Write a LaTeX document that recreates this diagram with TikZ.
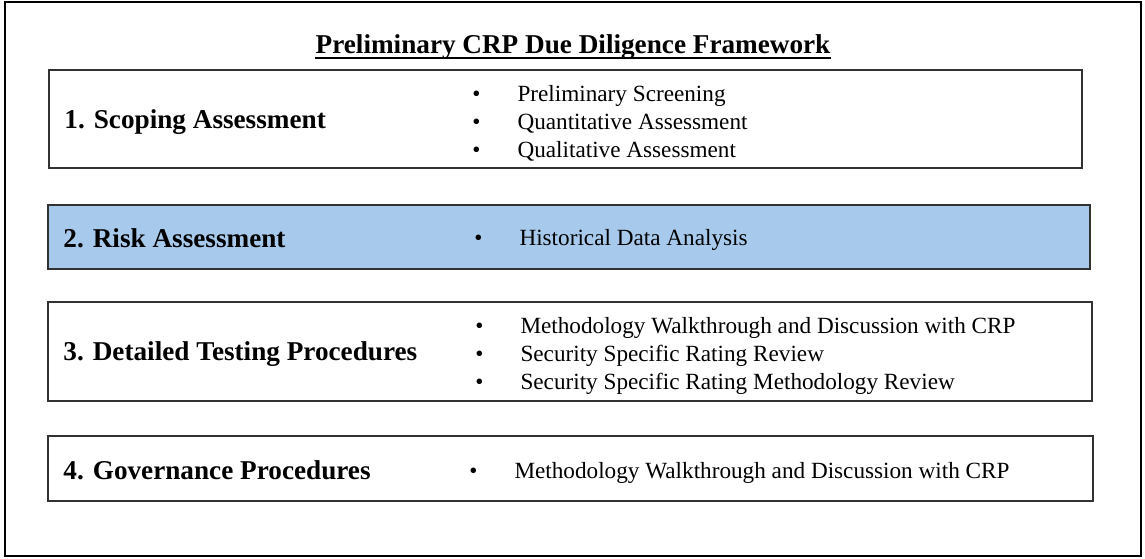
\documentclass[tikz,border=0pt]{standalone}
\usepackage{fontspec}
\setmainfont{Liberation Serif}
\definecolor{riskblue}{RGB}{167,201,235}
\definecolor{edgegray}{RGB}{50,50,50}
\newcommand{\itemlist}[1]{\begin{tabular}{@{}l@{\hspace{18.5pt}}l@{}}#1\end{tabular}}
\begin{document}
\begin{tikzpicture}[x=0.5pt, y=-0.5pt,
    stagebox/.style={draw=edgegray, line width=0.8pt, inner sep=0pt, outer sep=0pt},
    stagename/.style={anchor=west, inner sep=0pt, font=\fontsize{13.6}{16}\selectfont\bfseries},
    stageitems/.style={anchor=west, inner sep=0pt, font=\fontsize{11.6}{14}\selectfont}]
      \useasboundingbox (0,0) rectangle (1145,558);
      \draw[line width=1.1pt] (5,2) rectangle (1141,556);
      \node[anchor=base, inner sep=0pt, font=\fontsize{13.6}{16}\selectfont\bfseries] (title) at (573,53) {Preliminary CRP Due Diligence Framework};
      \draw[line width=1pt] ([yshift=-2.6pt]title.base west) -- ([yshift=-2.6pt]title.base east);
      \node[stagebox, minimum width=516.5pt, minimum height=49pt] (scoping) at (565.5,119) {};
      \node[stagebox, fill=riskblue, minimum width=521pt, minimum height=32pt] (risk) at (569,237) {};
      \node[stagebox, minimum width=522pt, minimum height=49.5pt] (testing) at (570,351.5) {};
      \node[stagebox, minimum width=522.5pt, minimum height=32.5pt] (governance) at (570.5,468.5) {};
      \node[stagename] (scopingname) at ([xshift=7.5pt, yshift=-1.5pt]scoping.west) {1. Scoping Assessment};
      \node[stagename] (riskname) at ([xshift=7.5pt, yshift=-0.5pt]risk.west) {2. Risk Assessment};
      \node[stagename] (testingname) at ([xshift=7.5pt, yshift=-1.5pt]testing.west) {3. Detailed Testing Procedures};
      \node[stagename] (governancename) at ([xshift=7.5pt, yshift=-1pt]governance.west) {4. Governance Procedures};
      \node[stageitems] (scopingitems) at (472,124) {\itemlist{\textbullet & Preliminary Screening\\ \textbullet & Quantitative Assessment\\ \textbullet & Qualitative Assessment}};
      \node[stageitems] (riskitems) at (474,240) {\itemlist{\textbullet & Historical Data Analysis}};
      \node[stageitems] (testingitems) at (475,356) {\itemlist{\textbullet & Methodology Walkthrough and Discussion with CRP\\ \textbullet & Security Specific Rating Review\\ \textbullet & Security Specific Rating Methodology Review}};
      \node[stageitems] (governanceitems) at (469,473) {\itemlist{\textbullet & Methodology Walkthrough and Discussion with CRP}};
\end{tikzpicture}
\end{document}
